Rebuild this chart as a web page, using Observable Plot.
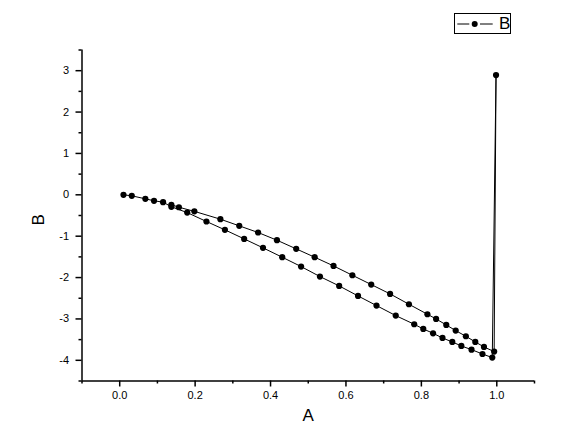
<!DOCTYPE html>
<html><head><meta charset="utf-8">
<script src="https://cdn.jsdelivr.net/npm/d3@7"></script>
<script src="https://cdn.jsdelivr.net/npm/@observablehq/plot@0.6"></script>
<style>
body{margin:0;background:#fff;font-family:"Liberation Sans",Arial,sans-serif;}
#wrap{position:relative;width:579px;height:438px;}
#legend{position:absolute;left:454px;top:13px;width:55px;height:19px;border:1px solid #000;background:#fff;}
#legend svg{position:absolute;left:0;top:0;}
#legend span{position:absolute;left:44px;top:0px;font-size:17px;line-height:19px;color:#000;}
</style></head>
<body><div id="wrap"><div id="legend"></div></div>
<script>
// A values (path order)
const A = [0.01,0.032,0.068,0.091,0.115,
  0.137,0.179,0.230,0.279,0.330,0.380,0.431,0.481,0.531,0.582,0.632,0.681,0.732,0.781,0.805,0.831,0.856,0.882,0.906,0.933,0.962,0.988,
  0.998,
  0.993,0.966,0.943,0.918,0.891,0.866,0.839,0.816,0.767,0.717,0.667,0.617,0.567,0.517,0.468,0.417,0.367,0.317,0.267,0.198,0.157,0.137];
// B values (path order)
const B = [0,-0.024,-0.097,-0.145,-0.177,
  -0.29,-0.43,-0.645,-0.847,-1.065,-1.282,-1.508,-1.734,-1.976,-2.202,-2.444,-2.677,-2.919,-3.129,-3.242,-3.347,-3.46,-3.556,-3.653,-3.742,-3.847,-3.935,
  2.895,
  -3.79,-3.677,-3.556,-3.419,-3.282,-3.145,-3.0,-2.887,-2.645,-2.395,-2.169,-1.944,-1.718,-1.508,-1.306,-1.097,-0.911,-0.75,-0.589,-0.40,-0.30,-0.24];
const xMajor = [0,0.2,0.4,0.6,0.8,1.0];
const xMinor = [-0.1,0.1,0.3,0.5,0.7,0.9,1.1];
const yMajor = [-4,-3,-2,-1,0,1,2,3];
const yMinor = [-4.5,-3.5,-2.5,-1.5,-0.5,0.5,1.5,2.5,3.5];
const xTitle = "A", yTitle = "B", seriesName = "B";

const data = A.map((a,i)=>({a, b:B[i]}));

const plot = Plot.plot({
  width:579, height:438,
  marginLeft:81.5, marginRight:45, marginTop:49.5, marginBottom:57.5,
  style:{fontFamily:"Liberation Sans, Arial, sans-serif", fontSize:"11px", color:"#000", background:"#fff"},
  x:{domain:[-0.1,1.1]},
  y:{domain:[-4.5,3.5]},
  marks:[
    Plot.axisX({ticks:xMajor, tickSize:6, tickPadding:4, strokeWidth:1.5, tickFormat:d=>d.toFixed(1), label:null}),
    Plot.axisX({ticks:xMinor, tickSize:3, strokeWidth:1.5, tickFormat:()=>"", label:null}),
    Plot.axisY({ticks:yMajor, tickSize:6, tickPadding:7, strokeWidth:1.5, tickFormat:d=>String(d), label:null}),
    Plot.axisY({ticks:yMinor, tickSize:3, strokeWidth:1.5, tickFormat:()=>"", label:null}),
    Plot.ruleX([-0.1], {stroke:"#000", strokeWidth:1.5}),
    Plot.ruleY([-4.5], {stroke:"#000", strokeWidth:1.5}),
    Plot.line(data, {x:"a", y:"b", stroke:"#000", strokeWidth:1}),
    Plot.dot(data, {x:"a", y:"b", r:3.1, fill:"#000", stroke:"none"}),
    Plot.text([xTitle], {text:d=>d, frameAnchor:"bottom", dy:40, fontSize:17}),
    Plot.text([yTitle], {text:d=>d, frameAnchor:"left", dx:-43, dy:10, rotate:-90, fontSize:17})
  ]
});
document.getElementById("wrap").prepend(plot);

const leg = document.getElementById("legend");
leg.innerHTML = `<svg width="40" height="19"><line x1="2.3" x2="14.3" y1="10" y2="10" stroke="#000" stroke-width="1"/><circle cx="19.7" cy="10" r="3" fill="#000"/><line x1="25" x2="37.7" y1="10" y2="10" stroke="#000" stroke-width="1"/></svg><span>${seriesName}</span>`;
</script>
</body></html>
